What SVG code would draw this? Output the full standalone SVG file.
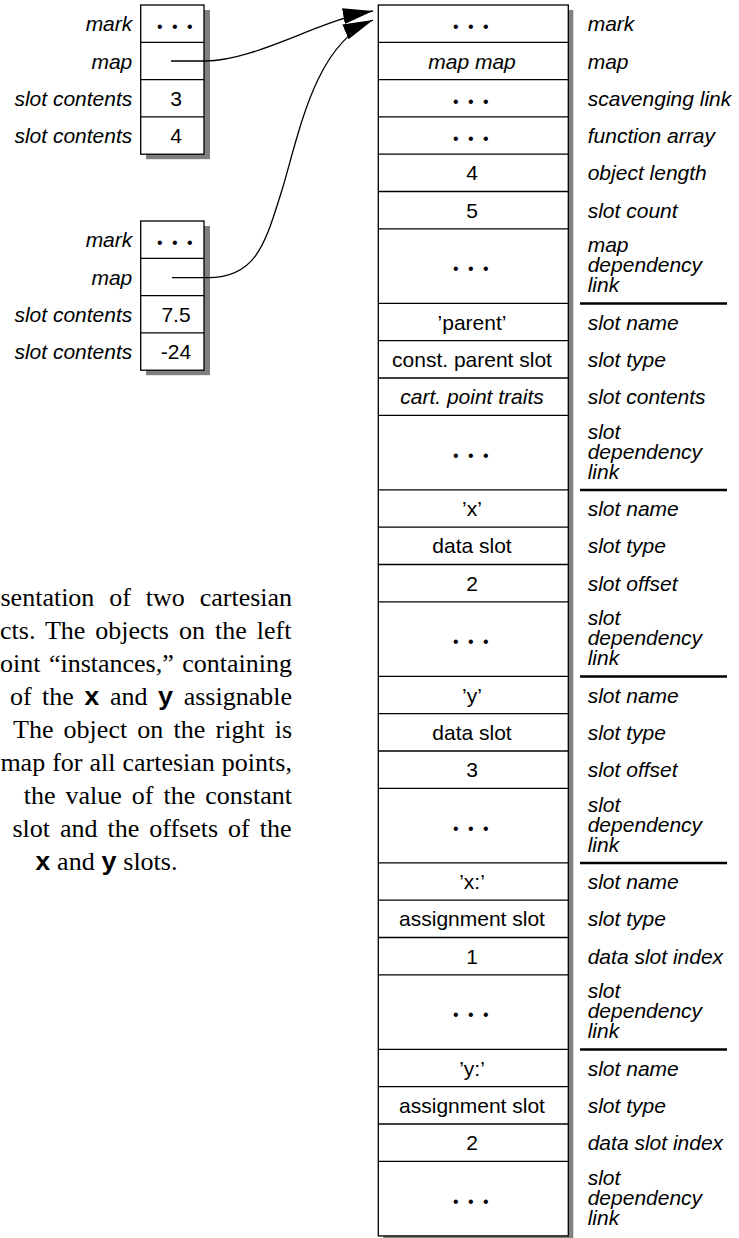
<svg xmlns="http://www.w3.org/2000/svg" width="739" height="1238" viewBox="0 0 739 1238">
<defs>
<style>
.box{fill:#fff;stroke:#000;stroke-width:1.3}
.shadow{fill:#808080}
.lbl{font-family:"Liberation Sans",Arial,sans-serif;font-size:21px;font-style:italic;fill:#000}
.lr{text-anchor:end}
.val{font-family:"Liberation Sans",Arial,sans-serif;font-size:21px;text-anchor:middle;fill:#000}
.it{font-style:italic}
.dots{font-family:"Liberation Sans",Arial,sans-serif;font-size:16px;text-anchor:middle;letter-spacing:2.5px;fill:#000}
.sep{stroke:#000;stroke-width:2.5}
.conn{fill:none;stroke:#000;stroke-width:1.3}
.cap{font-family:"Liberation Serif","Times New Roman",serif;font-size:26px;fill:#000}
.mono{font-family:"Liberation Mono","Courier New",monospace;font-weight:bold}
</style>
<marker id="ah" markerUnits="userSpaceOnUse" markerWidth="32" markerHeight="18" viewBox="0 0 32 18" refX="30" refY="8" orient="auto">
<path d="M0,0 L30,8 L0,16 z" fill="#000"/>
</marker>
</defs>

<g id="instance1">
<rect class="shadow" x="146" y="10" width="64" height="149.2"/>
<rect class="box" x="140.7" y="5" width="63.3" height="149.2"/>
<line class="box" x1="140.7" y1="42.3" x2="204" y2="42.3"/>
<line class="box" x1="140.7" y1="79.6" x2="204" y2="79.6"/>
<line class="box" x1="140.7" y1="116.9" x2="204" y2="116.9"/>
<text class="lbl lr" x="132.3" y="31.2">mark</text>
<text class="lbl lr" x="132.3" y="68.5">map</text>
<text class="lbl lr" x="132.3" y="105.8">slot contents</text>
<text class="lbl lr" x="132.3" y="143.1">slot contents</text>
<text class="dots" x="176" y="32">• • •</text>
<text class="val" x="176" y="105.8">3</text>
<text class="val" x="176" y="143.1">4</text>
</g>

<g id="instance2">
<rect class="shadow" x="146" y="226" width="64" height="149.2"/>
<rect class="box" x="140.7" y="221" width="63.3" height="149.2"/>
<line class="box" x1="140.7" y1="258.3" x2="204" y2="258.3"/>
<line class="box" x1="140.7" y1="295.6" x2="204" y2="295.6"/>
<line class="box" x1="140.7" y1="332.9" x2="204" y2="332.9"/>
<text class="lbl lr" x="132.3" y="247.2">mark</text>
<text class="lbl lr" x="132.3" y="284.5">map</text>
<text class="lbl lr" x="132.3" y="321.8">slot contents</text>
<text class="lbl lr" x="132.3" y="359.1">slot contents</text>
<text class="dots" x="176" y="248">• • •</text>
<text class="val" x="176" y="321.8">7.5</text>
<text class="val" x="176" y="359.1">-24</text>
</g>

<g id="map">
<rect class="shadow" x="383.3" y="10" width="190" height="1235"/>
<rect class="box" x="378.3" y="5" width="190" height="1230.9"/>
<g stroke="#000" stroke-width="1.3">
<line x1="378.3" y1="42.3" x2="568.3" y2="42.3"/>
<line x1="378.3" y1="79.6" x2="568.3" y2="79.6"/>
<line x1="378.3" y1="116.9" x2="568.3" y2="116.9"/>
<line x1="378.3" y1="154.2" x2="568.3" y2="154.2"/>
<line x1="378.3" y1="191.5" x2="568.3" y2="191.5"/>
<line x1="378.3" y1="228.8" x2="568.3" y2="228.8"/>
<line x1="378.3" y1="303.4" x2="568.3" y2="303.4"/>
<line x1="378.3" y1="340.7" x2="568.3" y2="340.7"/>
<line x1="378.3" y1="378" x2="568.3" y2="378"/>
<line x1="378.3" y1="415.3" x2="568.3" y2="415.3"/>
<line x1="378.3" y1="489.9" x2="568.3" y2="489.9"/>
<line x1="378.3" y1="527.2" x2="568.3" y2="527.2"/>
<line x1="378.3" y1="564.5" x2="568.3" y2="564.5"/>
<line x1="378.3" y1="601.8" x2="568.3" y2="601.8"/>
<line x1="378.3" y1="676.4" x2="568.3" y2="676.4"/>
<line x1="378.3" y1="713.7" x2="568.3" y2="713.7"/>
<line x1="378.3" y1="751" x2="568.3" y2="751"/>
<line x1="378.3" y1="788.3" x2="568.3" y2="788.3"/>
<line x1="378.3" y1="862.9" x2="568.3" y2="862.9"/>
<line x1="378.3" y1="900.2" x2="568.3" y2="900.2"/>
<line x1="378.3" y1="937.5" x2="568.3" y2="937.5"/>
<line x1="378.3" y1="974.8" x2="568.3" y2="974.8"/>
<line x1="378.3" y1="1049.4" x2="568.3" y2="1049.4"/>
<line x1="378.3" y1="1086.7" x2="568.3" y2="1086.7"/>
<line x1="378.3" y1="1124" x2="568.3" y2="1124"/>
<line x1="378.3" y1="1161.3" x2="568.3" y2="1161.3"/>
</g>
<line class="sep" x1="580" y1="303.4" x2="727" y2="303.4"/>
<line class="sep" x1="580" y1="489.9" x2="727" y2="489.9"/>
<line class="sep" x1="580" y1="676.4" x2="727" y2="676.4"/>
<line class="sep" x1="580" y1="862.9" x2="727" y2="862.9"/>
<line class="sep" x1="580" y1="1049.4" x2="727" y2="1049.4"/>

<text class="dots" x="472" y="32">• • •</text>
<text class="val it" x="472" y="68.5">map map</text>
<text class="dots" x="472" y="106.6">• • •</text>
<text class="dots" x="472" y="143.9">• • •</text>
<text class="val" x="472" y="180.4">4</text>
<text class="val" x="472" y="217.7">5</text>
<text class="dots" x="472" y="274.4">• • •</text>
<text class="val" x="472" y="329.6">’parent’</text>
<text class="val" x="472" y="366.9">const. parent slot</text>
<text class="val it" x="472" y="404.2">cart. point traits</text>
<text class="dots" x="472" y="460.9">• • •</text>
<text class="val" x="472" y="516.1">’x’</text>
<text class="val" x="472" y="553.4">data slot</text>
<text class="val" x="472" y="590.7">2</text>
<text class="dots" x="472" y="647.4">• • •</text>
<text class="val" x="472" y="702.6">’y’</text>
<text class="val" x="472" y="739.9">data slot</text>
<text class="val" x="472" y="777.2">3</text>
<text class="dots" x="472" y="833.9">• • •</text>
<text class="val" x="472" y="889.1">’x:’</text>
<text class="val" x="472" y="926.4">assignment slot</text>
<text class="val" x="472" y="963.7">1</text>
<text class="dots" x="472" y="1020.4">• • •</text>
<text class="val" x="472" y="1075.6">’y:’</text>
<text class="val" x="472" y="1112.9">assignment slot</text>
<text class="val" x="472" y="1150.2">2</text>
<text class="dots" x="472" y="1206.9">• • •</text>

<text class="lbl" x="587.7" y="31.2">mark</text>
<text class="lbl" x="587.7" y="68.5">map</text>
<text class="lbl" x="587.7" y="105.8">scavenging link</text>
<text class="lbl" x="587.7" y="143.1">function array</text>
<text class="lbl" x="587.7" y="180.4">object length</text>
<text class="lbl" x="587.7" y="217.7">slot count</text>
<text class="lbl" x="587.7" y="252.1">map</text>
<text class="lbl" x="587.7" y="272.1">dependency</text>
<text class="lbl" x="587.7" y="292.1">link</text>
<text class="lbl" x="587.7" y="329.6">slot name</text>
<text class="lbl" x="587.7" y="366.9">slot type</text>
<text class="lbl" x="587.7" y="404.2">slot contents</text>
<text class="lbl" x="587.7" y="438.6">slot</text>
<text class="lbl" x="587.7" y="458.6">dependency</text>
<text class="lbl" x="587.7" y="478.6">link</text>
<text class="lbl" x="587.7" y="516.1">slot name</text>
<text class="lbl" x="587.7" y="553.4">slot type</text>
<text class="lbl" x="587.7" y="590.7">slot offset</text>
<text class="lbl" x="587.7" y="625.1">slot</text>
<text class="lbl" x="587.7" y="645.1">dependency</text>
<text class="lbl" x="587.7" y="665.1">link</text>
<text class="lbl" x="587.7" y="702.6">slot name</text>
<text class="lbl" x="587.7" y="739.9">slot type</text>
<text class="lbl" x="587.7" y="777.2">slot offset</text>
<text class="lbl" x="587.7" y="811.6">slot</text>
<text class="lbl" x="587.7" y="831.6">dependency</text>
<text class="lbl" x="587.7" y="851.6">link</text>
<text class="lbl" x="587.7" y="889.1">slot name</text>
<text class="lbl" x="587.7" y="926.4">slot type</text>
<text class="lbl" x="587.7" y="963.7">data slot index</text>
<text class="lbl" x="587.7" y="998.1">slot</text>
<text class="lbl" x="587.7" y="1018.1">dependency</text>
<text class="lbl" x="587.7" y="1038.1">link</text>
<text class="lbl" x="587.7" y="1075.6">slot name</text>
<text class="lbl" x="587.7" y="1112.9">slot type</text>
<text class="lbl" x="587.7" y="1150.2">data slot index</text>
<text class="lbl" x="587.7" y="1184.6">slot</text>
<text class="lbl" x="587.7" y="1204.6">dependency</text>
<text class="lbl" x="587.7" y="1224.6">link</text>
</g>

<g id="connectors">
<path class="conn" d="M171,61 H205 C255,61 320,20 373,11" marker-end="url(#ah)"/>
<path class="conn" d="M172,277.6 H208 C258,277.6 266,240 282,190 C300,130 315,45 373,20" marker-end="url(#ah)"/>
</g>

<g id="caption">
<text class="cap" x="0.5" y="606" style="word-spacing:8.4px">sentation of two cartesian</text>
<text class="cap" x="0" y="639" style="word-spacing:3.5px">cts. The objects on the left</text>
<text class="cap" x="0" y="672" style="word-spacing:1.95px">oint “instances,” containing</text>
<text class="cap" x="10" y="705" style="word-spacing:3.8px">of the <tspan class="mono">x</tspan> and <tspan class="mono">y</tspan> assignable</text>
<text class="cap" x="13" y="738" style="word-spacing:3.7px">The object on the right is</text>
<text class="cap" x="0.4" y="771" style="word-spacing:0.5px">map for all cartesian points,</text>
<text class="cap" x="23.8" y="804" style="word-spacing:3.5px">the value of the constant</text>
<text class="cap" x="12.4" y="837" style="word-spacing:3.5px">slot and the offsets of the</text>
<text class="cap" x="35" y="870"><tspan class="mono">x</tspan> and <tspan class="mono">y</tspan> slots.</text>
</g>
</svg>
